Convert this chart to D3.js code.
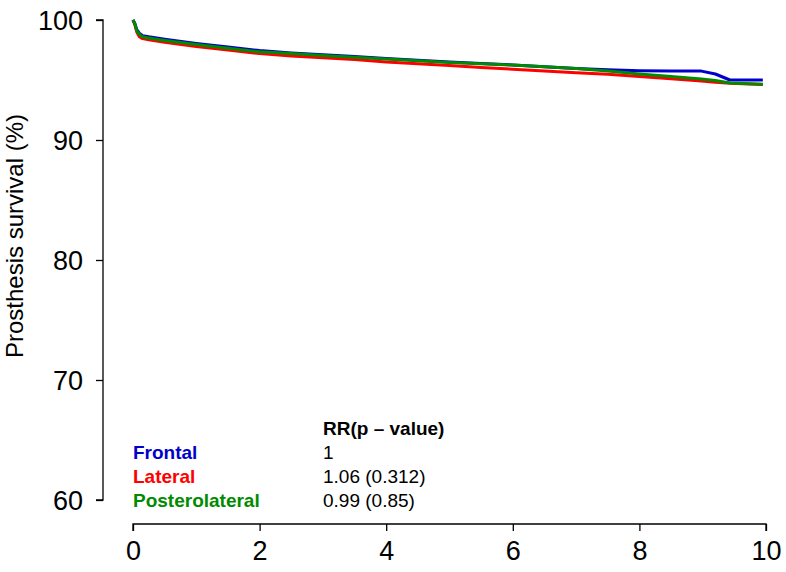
<!DOCTYPE html>
<html>
<head>
<meta charset="utf-8">
<script src="https://cdn.jsdelivr.net/npm/d3@7"></script>
<style>
  body { margin: 0; background: #fff; }
  svg { font-family: Arial, "Liberation Sans", sans-serif; }
</style>
</head>
<body>
<svg id="chart" width="786" height="572"></svg>
<script>
// follow-up time (years) and survival (%) for each approach
const times = [0, 0.03, 0.06, 0.1, 0.15, 0.25, 0.5, 1.0, 1.5, 2.0, 2.5, 3.0, 3.5, 4.0, 4.5, 5.0, 5.5, 6.0, 6.5, 7.0, 7.5, 8.0, 8.5, 8.98, 9.2, 9.43, 9.95];
const frontal = [100, 99.7, 99.2, 98.9, 98.7, 98.6, 98.4, 98.05, 97.75, 97.45, 97.25, 97.1, 96.95, 96.8, 96.65, 96.5, 96.38, 96.25, 96.1, 95.95, 95.85, 95.78, 95.76, 95.74, 95.5, 95.0, 95.0];
const lateral = [100, 99.6, 99.0, 98.6, 98.45, 98.35, 98.15, 97.8, 97.5, 97.2, 97.0, 96.85, 96.7, 96.5, 96.35, 96.2, 96.05, 95.9, 95.75, 95.6, 95.48, 95.3, 95.1, 94.92, 94.82, 94.72, 94.62];
const posterolateral = [100, 99.7, 99.1, 98.8, 98.6, 98.5, 98.3, 97.95, 97.65, 97.35, 97.2, 97.05, 96.9, 96.75, 96.6, 96.45, 96.35, 96.25, 96.1, 95.95, 95.75, 95.5, 95.3, 95.08, 94.95, 94.75, 94.65];

const groups = ["Frontal", "Lateral", "Posterolateral"];
const rrLabels = ["1", "1.06 (0.312)", "0.99 (0.85)"];
const colors = ["#0000CD", "#FF0000", "#008B00"];
const xTicks = [0, 2, 4, 6, 8, 10];
const yTicks = [60, 70, 80, 90, 100];

const svg = d3.select("#chart");

const x = d3.scaleLinear().domain([0, 10]).range([133, 766]);
const y = d3.scaleLinear().domain([60, 100]).range([500, 20]);

// y axis
const yAxis = svg.append("g")
    .attr("transform", "translate(103,0)")
    .call(d3.axisLeft(y).tickValues(yTicks).tickSize(7).tickPadding(13));
yAxis.select(".domain").attr("stroke", "#000").attr("stroke-width", 1.3)
    .attr("d", `M-7,${y(100)}H0V${y(60)}H-7`);
yAxis.selectAll(".tick line").attr("stroke-width", 1.3);
yAxis.selectAll("text").attr("font-size", 27).attr("fill", "#000").attr("dy", "0.36em")
    .attr("font-family", "Arial, 'Liberation Sans', sans-serif");

// x axis
const xAxis = svg.append("g")
    .attr("transform", "translate(0,524)")
    .call(d3.axisBottom(x).tickValues(xTicks).tickSize(7).tickPadding(10));
xAxis.select(".domain").attr("stroke", "#000").attr("stroke-width", 1.3)
    .attr("d", `M${x(0)},7V0H${x(10)}V7`);
xAxis.selectAll(".tick line").attr("stroke-width", 1.3);
xAxis.selectAll("text").attr("font-size", 27).attr("fill", "#000")
    .attr("font-family", "Arial, 'Liberation Sans', sans-serif");

// y label
svg.append("text")
    .attr("transform", "translate(23,236) rotate(-90)")
    .attr("text-anchor", "middle")
    .attr("font-size", 24)
    .text("Prosthesis survival (%)");

// survival curves
const series = [frontal, lateral, posterolateral];
const line = d3.line()
    .x((d, i) => x(times[i]))
    .y(d => y(d))
    .curve(d3.curveLinear);

// draw green last, like the reference
[1, 0, 2].forEach(k => {
  svg.append("path")
      .datum(series[k])
      .attr("fill", "none")
      .attr("stroke", colors[k])
      .attr("stroke-width", 3)
      .attr("stroke-linejoin", "round")
      .attr("d", line);
});

// legend / RR table
svg.append("text")
    .attr("x", 323).attr("y", 435)
    .attr("font-size", 19).attr("font-weight", "bold")
    .text("RR(p \u2013 value)");

groups.forEach((g, i) => {
  svg.append("text")
      .attr("x", 133).attr("y", 459 + i * 24)
      .attr("font-size", 19).attr("font-weight", "bold")
      .attr("fill", colors[i])
      .text(g);
  svg.append("text")
      .attr("x", 323).attr("y", 459 + i * 24)
      .attr("font-size", 19)
      .text(rrLabels[i]);
});
</script>
</body>
</html>
